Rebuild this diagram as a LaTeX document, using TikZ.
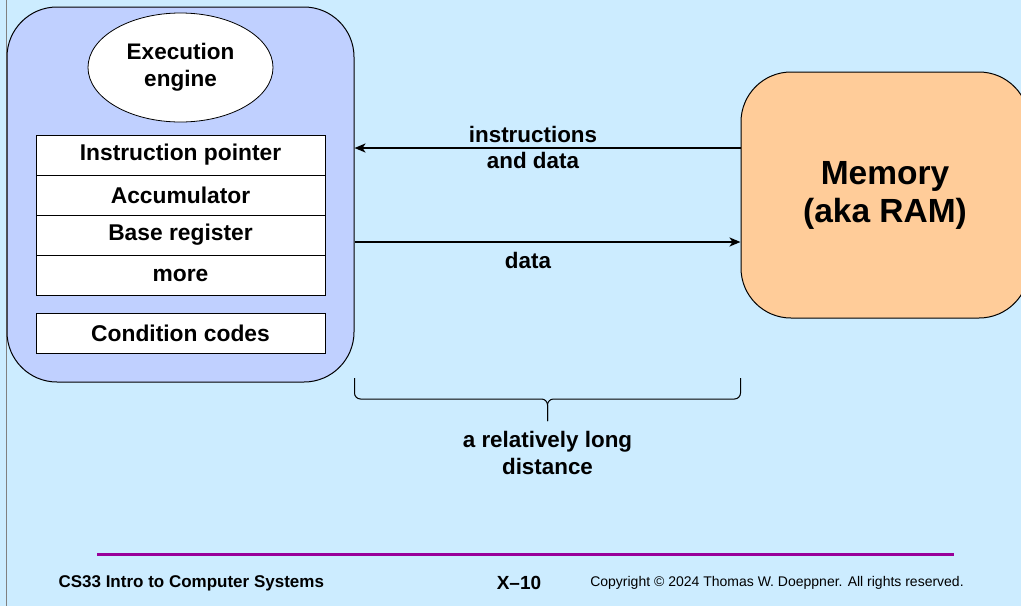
\documentclass[tikz,border=0pt]{standalone}
\usepackage{fontspec}
\setmainfont{Liberation Sans}
\usetikzlibrary{shapes.geometric, positioning, arrows.meta}
\definecolor{slidebg}{RGB}{204,236,255}
\definecolor{cpucolor}{RGB}{192,208,255}
\definecolor{memcolor}{RGB}{255,204,153}
\definecolor{rulecolor}{RGB}{153,0,153}

\begin{document}
\begin{tikzpicture}[x=1pt, y=-1pt]
  \tikzset{
    cpubox/.style={
      draw,
      line width=1pt,
      rounded corners=50pt,
      minimum width=347pt,
      minimum height=375pt,
      fill=cpucolor
    },
    regbox/.style={
      draw,
      line width=0.8pt,
      minimum width=289pt,
      minimum height=40pt,
      anchor=center,
      fill=white,
      font=\fontsize{22.8}{26}\selectfont\bfseries
    },
    engine/.style={
      draw,
      ellipse,
      line width=0.8pt,
      minimum width=185pt,
      minimum height=109pt,
      fill=white,
      align=center,
      font=\fontsize{22.5}{27}\selectfont\bfseries
    },
    membox/.style={
      draw,
      line width=1pt,
      rounded corners=50pt,
      minimum width=288pt,
      minimum height=246pt,
      fill=memcolor,
      align=center,
      font=\fontsize{33.5}{38}\selectfont\bfseries
    },
    lbl/.style={
      align=center,
      font=\fontsize{22.4}{26.5}\selectfont\bfseries
    },
    link/.style={
      line width=2pt,
      -{Stealth[length=11pt,width=9pt,inset=3pt]}
    },
    footer/.style={
      anchor=center
    }
  }

  % Background and frame
  \useasboundingbox[fill=slidebg] (0,0) rectangle (1021,606);
  \draw[gray, line width=1pt] (6.5,0) -- (6.5,606);

  % Processor
  \node[cpubox] at (180.5,194.5) (cpu) {};
  \node[engine] at (180.5,67.5) (engine) {Execution\\engine};

  % Register cells
  \node[regbox] at (180.5,155) (ip) {Instruction pointer};
  \node[regbox] at (180.5,195) (acc) {Accumulator};
  \node[regbox] at (180.5,235) (base) {Base register};
  \node[regbox] at (180.5,275) (more) {more};
  \node[regbox] at (180.5,333) (cc) {Condition codes};

  % Memory
  \node[membox] at (885,195) (mem) {Memory\\(aka RAM)};

  % Traffic between the two
  \coordinate (intop) at (0,148);
  \coordinate (outbot) at (0,242);
  \draw[link] (mem.west |- intop) -- (cpu.east |- intop);
  \draw[link] (cpu.east |- outbot) -- (mem.west |- outbot);
  \node[lbl] at (533,147.5) (instlbl) {instructions\\and data};
  \node[lbl] at (528,260) (datalbl) {data};

  % Brace under the gap
  \coordinate (bracel) at (354.5,378);
  \coordinate (bracer) at (740.5,378);
  \coordinate (bracetip) at (547.5,421);
  \draw[line width=1pt, rounded corners=6pt]
    (bracel) -- (bracel |- 0,399) -- (bracetip |- 0,399) -- (bracetip);
  \draw[line width=1pt, rounded corners=6pt]
    (bracer) -- (bracer |- 0,399) -- (bracetip |- 0,399) -- (bracetip);
  \node[lbl] at (547.5,453) (distlbl) {a relatively long\\distance};

  % Footer
  \coordinate (rulel) at (97,554);
  \coordinate (ruler) at (954,554);
  \draw[rulecolor, line width=3pt] (rulel) -- (ruler);
  \node[footer, anchor=west, font=\fontsize{17}{19}\selectfont\bfseries] at (55,583) (course) {CS33 Intro to Computer Systems};
  \node[footer, font=\fontsize{19}{21}\selectfont\bfseries] at (519,583) (slideno) {X--10};
  \node[footer, font=\fontsize{14}{16}\selectfont] at (777,583) (copy) {Copyright © 2024 Thomas W. Doeppner. All rights reserved.};

\end{tikzpicture}
\end{document}
